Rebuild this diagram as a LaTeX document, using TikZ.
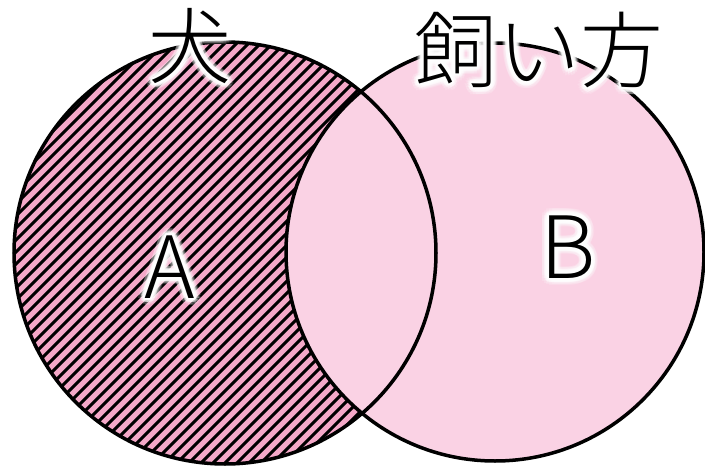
\documentclass[tikz,border=0pt]{standalone}
\usepackage{fontspec}
\newfontfamily\jp{Noto Sans CJK JP Light}
\usetikzlibrary{calc}
\definecolor{hatchpink}{HTML}{F4A8C8}
\definecolor{lightpink}{HTML}{FAD2E4}
\tikzset{
  outline/.style={draw=black, line width=3.5pt},
  hatchline/.style={draw=black, line width=3pt},
  kanji/.style={inner sep=0pt, font=\jp\fontsize{83}{83}\selectfont},
  letter/.style={inner sep=0pt, font=\jp\fontsize{86}{86}\selectfont},
}
\newcommand\glowlabel[4]{% name, position, style, text
  \foreach \rr/\oo [count=\k] in {7/0.18,4.5/0.4,2/0.85}{
    \foreach \aa [count=\j] in {0,22.5,...,337.5}{
      \node[#3, text=white, opacity=\oo] (#1-g\k-\j) at ($(#2)+(\aa:\rr pt)$) {#4};
    }
  }
  \node[#3, text=black] (#1) at (#2) {#4};
}
\begin{document}
\begin{tikzpicture}[x=1pt,y=-1pt]
\useasboundingbox (0,0) rectangle (705,466);
\coordinate (cA) at (225,253);
\coordinate (cB) at (495,252);
\fill[hatchpink] (cA) circle (211);
\begin{scope}
  \clip (cA) circle (211);
  \foreach \i in {0,...,80}{
    \pgfmathsetmacro\c{40+12*\i}
    \draw[hatchline] (\c,0) -- (\c-500,500);
  }
\end{scope}
\fill[lightpink] (cB) circle (209);
\draw[outline] (cA) circle (211);
\draw[outline] (cB) circle (209);
\coordinate (pInu) at (190,46);
\coordinate (pKai) at (539,50);
\coordinate (pA) at (170,267);
\coordinate (pB) at (568,247);
\glowlabel{inu}{pInu}{kanji}{犬}
\glowlabel{kai}{pKai}{kanji}{飼い方}
\glowlabel{la}{pA}{letter}{A}
\glowlabel{lb}{pB}{letter}{B}
\end{tikzpicture}
\end{document}
